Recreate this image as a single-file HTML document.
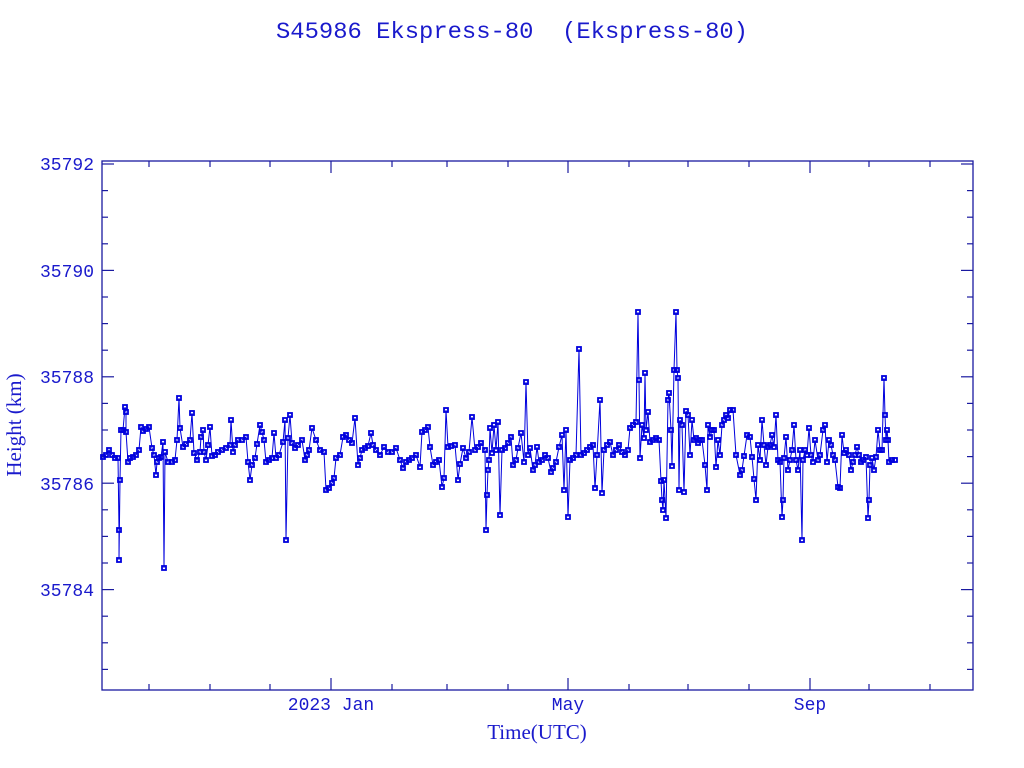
<!DOCTYPE html>
<html><head><meta charset="utf-8"><style>
html,body{margin:0;padding:0;background:#fff;}
svg{display:block;}
text{fill:#1a1acc;}
</style></head><body>
<svg id="s" width="1024" height="768" xmlns="http://www.w3.org/2000/svg">
<text x="512" y="38" text-anchor="middle" font-family="Liberation Mono, monospace" font-size="23.5" textLength="472" lengthAdjust="spacingAndGlyphs">S45986 Ekspress-80&#160;&#160;(Ekspress-80)</text>
<rect x="102" y="161" width="871" height="529" fill="none" stroke="#1a1aa0" stroke-width="1.3"/>
<g font-family="Liberation Mono, monospace" font-size="18" text-anchor="end">
<text x="94" y="170">35792</text>
<text x="94" y="277">35790</text>
<text x="94" y="383">35788</text>
<text x="94" y="490">35786</text>
<text x="94" y="596">35784</text>
</g>
<g font-family="Liberation Mono, monospace" font-size="18" text-anchor="middle">
<text x="331" y="710">2023 Jan</text>
<text x="568" y="710">May</text>
<text x="810" y="710">Sep</text>
</g>
<text x="537" y="739" text-anchor="middle" font-family="Liberation Serif, serif" font-size="21">Time(UTC)</text>
<text transform="translate(21,425) rotate(-90)" text-anchor="middle" font-family="Liberation Serif, serif" font-size="21">Height (km)</text>
<g id="ticks" stroke="#1a1aa0" stroke-width="1.2"></g>
<polyline id="pl" fill="none" stroke="#0000dd" stroke-width="1"/>
<g id="mk" fill="none" stroke="#0000dd" stroke-width="1.8"></g>
</svg>
<script>
var ns="http://www.w3.org/2000/svg";
function ln(g,x1,y1,x2,y2){var l=document.createElementNS(ns,"line");l.setAttribute("x1",x1);l.setAttribute("y1",y1);l.setAttribute("x2",x2);l.setAttribute("y2",y2);g.appendChild(l);}
var t=document.getElementById("ticks");
for(var i=0;i<=19;i++){var y=164+i*26.6;if(y>689)break;var L=(i%4==0)?12:6;ln(t,102,y,102+L,y);ln(t,973,y,973-L,y);}
var months=[149,210,270,331,392,447,508,568,629,688,749,810,869,930];
var maj={331:1,568:1,810:1};
months.forEach(function(x){var L=maj[x]?12:6;ln(t,x,690,x,690-L);ln(t,x,161,x,161+L);});
var d="103,457 106,455 109,450 112,455 115,458 118,458 119,530 119,560 120,480 121,430 123,430 125,407 126,412 126,432 128,462 130,458 133,457 136,455 139,450 141,427 143,431 146,429 149,427 152,448 154,455 156,475 157,462 159,458 161,457 163,442 164,568 165,452 168,462 172,462 175,460 177,440 179,398 180,428 183,447 186,444 190,440 192,413 194,453 197,460 200,452 201,437 203,430 204,452 206,460 208,445 210,427 212,456 215,455 218,452 222,450 226,448 230,445 231,420 233,452 235,445 238,440 242,440 246,437 248,462 250,480 252,465 255,458 257,444 260,425 262,432 264,440 266,462 269,460 272,458 274,433 276,458 279,455 283,442 285,420 286,540 288,438 290,415 292,443 295,448 298,445 302,440 305,460 307,455 309,450 312,428 316,440 320,450 324,452 326,490 329,488 332,483 334,478 336,458 340,455 343,437 346,435 349,440 352,443 355,418 358,465 360,458 362,450 365,448 368,446 371,433 373,445 376,450 380,455 384,447 388,452 392,452 396,448 400,460 403,468 406,462 409,460 412,458 416,455 420,467 422,432 425,430 428,427 430,447 433,465 436,462 439,460 442,487 444,478 446,410 448,447 451,446 455,445 458,480 460,464 463,448 466,458 469,452 472,417 475,450 478,447 481,443 485,450 486,530 487,495 488,470 489,460 490,428 492,453 494,425 496,450 498,422 500,515 502,450 505,448 508,443 511,437 513,465 516,460 518,448 521,433 524,462 526,382 528,455 530,448 533,470 535,465 537,447 539,462 542,460 545,455 548,458 551,472 553,468 556,462 559,447 562,435 564,490 566,430 568,517 570,460 573,458 576,455 579,349 581,455 584,453 587,450 590,447 593,445 595,488 597,455 600,400 602,493 604,450 607,445 610,442 613,455 616,450 619,445 622,452 625,455 628,450 630,428 633,425 636,422 638,312 639,380 640,458 642,425 644,438 645,373 646,430 648,412 650,442 653,440 656,438 659,440 661,481 662,500 663,510 664,480 666,518 668,400 669,393 671,430 672,466 674,370 676,312 677,370 678,378 679,490 680,420 682,425 684,492 686,411 688,415 690,455 692,420 694,440 696,438 698,443 700,440 702,440 705,465 707,490 708,425 710,437 712,430 714,430 716,467 718,440 720,455 722,425 724,420 726,415 728,418 730,410 733,410 736,455 740,475 742,470 744,456 747,435 750,437 752,457 754,479 756,500 758,445 760,460 762,420 764,445 766,465 768,447 770,445 772,435 774,447 776,415 778,460 780,462 782,517 783,500 784,458 786,437 788,470 790,460 792,450 794,425 796,460 798,470 800,450 802,540 803,460 805,450 807,455 809,428 811,455 813,462 815,440 818,460 820,455 823,430 825,425 827,462 829,440 831,445 833,455 835,460 838,487 840,488 842,435 844,453 846,450 849,455 851,470 853,462 855,455 857,447 859,455 861,462 863,460 866,457 868,518 869,500 870,465 872,458 874,470 876,457 878,430 880,450 882,450 884,378 885,415 886,440 887,430 888,440 889,462 892,460 895,460";
document.getElementById("pl").setAttribute("points",d);
var mk=document.getElementById("mk");
d.split(" ").forEach(function(p){var a=p.split(",");var r=document.createElementNS(ns,"rect");r.setAttribute("x",+a[0]-2);r.setAttribute("y",+a[1]-2);r.setAttribute("width",4);r.setAttribute("height",4);mk.appendChild(r);});
</script>
</body></html>
